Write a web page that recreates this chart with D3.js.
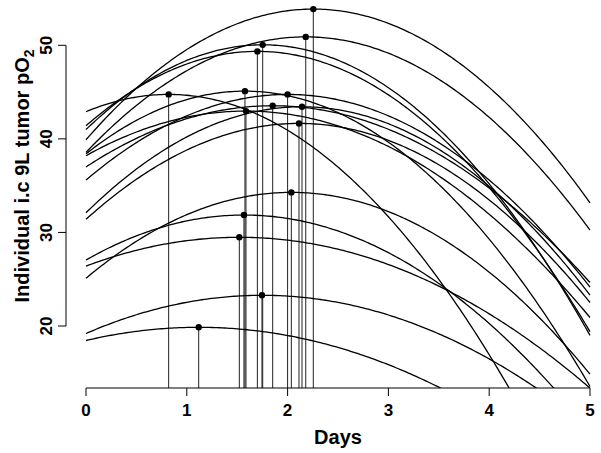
<!DOCTYPE html>
<html lang="en">
<head>
<meta charset="UTF-8" />
<title>Individual tumor pO2 curves</title>
<script src="https://d3js.org/d3.v7.min.js"></script>
<style>
  body { margin: 0; background: #fff; }
  svg { display: block; }
  text { font-family: Arial, "Liberation Sans", sans-serif; font-weight: bold; fill: #000; }
</style>
</head>
<body>
<div id="chart"></div>
<script>
  // one quadratic per tumour: value at day 0, and the peak (day, pO2)
  const startPO2 = [39.9, 38.56, 41.0, 41.4, 42.9, 38.4, 35.6, 38.2, 37.0, 32.1, 31.4, 25.1, 27.05, 26.4, 19.2, 18.45];
  const peakDay  = [2.255, 2.18, 1.753, 1.70, 0.82, 1.577, 2.0, 1.587, 1.852, 2.143, 2.113, 2.037, 1.567, 1.521, 1.746, 1.118];
  const peakPO2  = [53.87, 50.9, 50.05, 49.35, 44.75, 45.1, 44.75, 42.97, 43.54, 43.43, 41.65, 34.28, 31.86, 29.48, 23.28, 19.86];

  const xTicks = [0, 1, 2, 3, 4, 5];
  const yTicks = [20, 30, 40, 50];

  const width = 601, height = 453;

  const x = d3.scaleLinear().domain([0, 5]).range([86, 590]);
  const y = d3.scaleLinear().domain([20, 50]).range([326, 45.3]);
  const plotBottom = 388;
  const axisLeft = 66;

  const svg = d3.select("#chart").append("svg")
      .attr("width", width)
      .attr("height", height);

  svg.append("clipPath").attr("id", "plot")
    .append("rect")
      .attr("x", axisLeft).attr("y", -20)
      .attr("width", width - axisLeft + 20)
      .attr("height", plotBottom + 20);

  const g = svg.append("g").attr("clip-path", "url(#plot)");

  const curves = peakDay.map((t0, i) => {
    const a = (peakPO2[i] - startPO2[i]) / (t0 * t0);
    return d3.range(0, 5.001, 0.025).map(t => [t, peakPO2[i] - a * (t - t0) * (t - t0)]);
  });

  const line = d3.line().x(d => x(d[0])).y(d => y(d[1]));

  // drop lines from each peak
  g.selectAll("line.drop")
    .data(peakDay)
    .join("line")
      .attr("class", "drop")
      .attr("x1", d => x(d)).attr("x2", d => x(d))
      .attr("y1", (d, i) => y(peakPO2[i]))
      .attr("y2", plotBottom)
      .attr("stroke", "#222")
      .attr("stroke-width", 1);

  g.selectAll("path.curve")
    .data(curves)
    .join("path")
      .attr("class", "curve")
      .attr("d", line)
      .attr("fill", "none")
      .attr("stroke", "#000")
      .attr("stroke-width", 1.3);

  g.selectAll("circle")
    .data(peakDay)
    .join("circle")
      .attr("cx", d => x(d))
      .attr("cy", (d, i) => y(peakPO2[i]))
      .attr("r", 3.2)
      .attr("fill", "#000");

  // x axis
  const xa = svg.append("g");
  xa.append("line")
      .attr("x1", x(0)).attr("x2", x(5))
      .attr("y1", plotBottom).attr("y2", plotBottom)
      .attr("stroke", "#000");
  xa.selectAll("line.tick")
    .data(xTicks)
    .join("line")
      .attr("class", "tick")
      .attr("x1", d => x(d)).attr("x2", d => x(d))
      .attr("y1", plotBottom).attr("y2", plotBottom + 8)
      .attr("stroke", "#000");
  xa.selectAll("text")
    .data(xTicks)
    .join("text")
      .attr("x", d => x(d))
      .attr("y", 416)
      .attr("text-anchor", "middle")
      .style("font-size", "17px")
      .text(d => d);

  // y axis
  const ya = svg.append("g");
  ya.append("line")
      .attr("x1", axisLeft).attr("x2", axisLeft)
      .attr("y1", y(20)).attr("y2", y(50))
      .attr("stroke", "#000");
  ya.selectAll("line.tick")
    .data(yTicks)
    .join("line")
      .attr("class", "tick")
      .attr("x1", axisLeft - 8).attr("x2", axisLeft)
      .attr("y1", d => y(d)).attr("y2", d => y(d))
      .attr("stroke", "#000");
  ya.selectAll("text")
    .data(yTicks)
    .join("text")
      .attr("transform", d => `translate(52,${y(d)}) rotate(-90)`)
      .attr("text-anchor", "middle")
      .style("font-size", "17px")
      .text(d => d);

  svg.append("text")
      .attr("x", x(2.5))
      .attr("y", 444)
      .attr("text-anchor", "middle")
      .style("font-size", "20px")
      .text("Days");

  const yl = svg.append("text")
      .attr("transform", "translate(29,176) rotate(-90)")
      .attr("text-anchor", "middle")
      .style("font-size", "20px");
  yl.append("tspan").text("Individual i.c 9L tumor pO");
  yl.append("tspan").attr("dy", 5).style("font-size", "14px").text("2");
</script>
</body>
</html>
